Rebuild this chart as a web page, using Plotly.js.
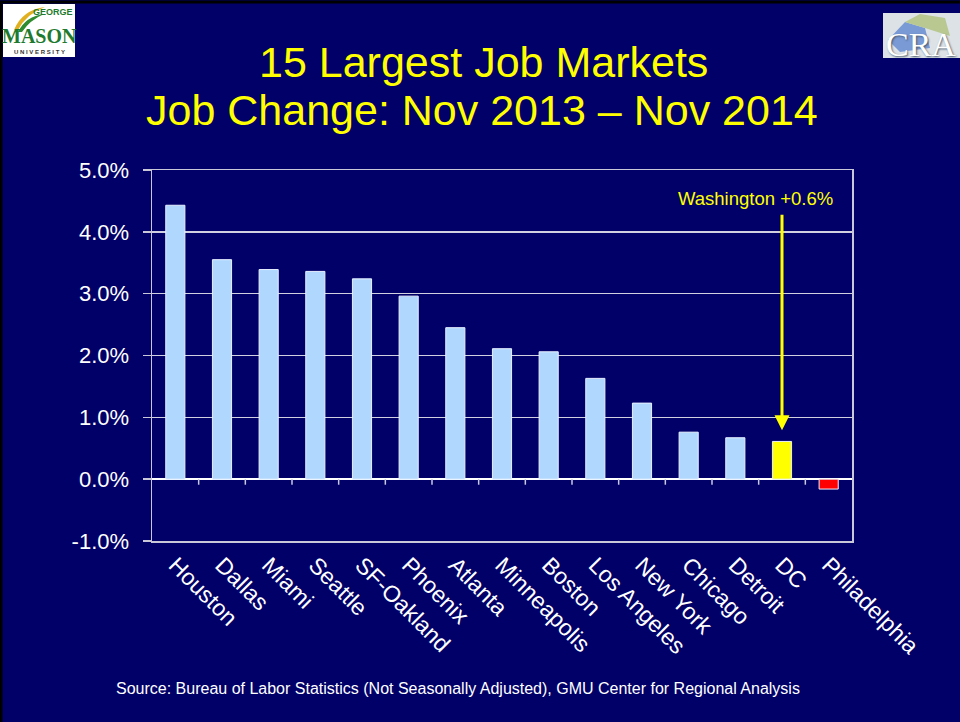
<!DOCTYPE html>
<html>
<head>
<meta charset="utf-8">
<script src="https://cdn.plot.ly/plotly-3.0.1.min.js"></script>
<style>
html,body{margin:0;padding:0;background:#000068;}
#chart{width:960px;height:722px;}
</style>
</head>
<body>
<div id="chart"></div>
<script>
// ---- Data ----
const categories = ['Houston','Dallas','Miami','Seattle','SF-Oakland','Phoenix','Atlanta','Minneapolis','Boston','Los Angeles','New York','Chicago','Detroit','DC','Philadelphia'];
const jobChange = [4.43, 3.55, 3.39, 3.36, 3.24, 2.96, 2.45, 2.11, 2.06, 1.63, 1.23, 0.76, 0.67, 0.61, -0.16];
const yTickValues = [-1, 0, 1, 2, 3, 4, 5];
const yTickLabels = ['-1.0%', '0.0%', '1.0%', '2.0%', '3.0%', '4.0%', '5.0%'];
const highlightCategory = 'DC';
const highlightLabel = 'Washington +0.6%';
const titleLines = ['15 Largest Job Markets', 'Job Change: Nov 2013 \u2013 Nov 2014'];
const sourceText = 'Source: Bureau of Labor Statistics (Not Seasonally Adjusted), GMU Center for Regional Analysis';

// ---- Styling ----
const BG = '#000068';
const FONT = 'Arial, "Liberation Sans", sans-serif';
const W = 960, H = 722;
const M = {l: 152, r: 108, t: 170, b: 181};
const plotW = W - M.l - M.r, plotH = H - M.t - M.b;
const px = x => (x - M.l) / plotW;          // pixel -> paper x
const py = y => (H - M.b - y) / plotH;      // pixel -> paper y

const barColors = categories.map((c, i) =>
  c === highlightCategory ? '#FFFF00' : (jobChange[i] < 0 ? '#FF0000' : '#B0D8FF'));

const trace = {
  type: 'bar',
  x: categories,
  y: jobChange,
  marker: {color: barColors, line: {color: '#E8F0FF', width: 1}},
  hoverinfo: 'x+y'
};

// small tick marks along the zero line, at category boundaries
const shapes = [];
for (let i = 0; i < categories.length - 1; i++) {
  shapes.push({type: 'line', xref: 'x', yref: 'y', x0: i + 0.5, x1: i + 0.5, y0: 0, y1: -0.09,
    line: {color: '#C8C8E0', width: 1.5}});
}
// page border
shapes.push({type: 'rect', xref: 'paper', yref: 'paper', x0: px(1), x1: px(W + 5), y0: py(H + 5), y1: py(2),
  line: {color: '#000000', width: 3}, fillcolor: 'rgba(0,0,0,0)', layer: 'below'});
// GMU logo box
shapes.push({type: 'rect', xref: 'paper', yref: 'paper', x0: px(3), x1: px(75), y0: py(57), y1: py(4),
  line: {width: 0}, fillcolor: '#FFFFFF'});
// swoosh
shapes.push({type: 'path', xref: 'paper', yref: 'paper',
  path: `M ${px(14)} ${py(30)} Q ${px(22)} ${py(10)} ${px(45)} ${py(7)} Q ${px(26)} ${py(14)} ${px(18)} ${py(30)} Z`,
  line: {width: 0}, fillcolor: '#E0B020'});
shapes.push({type: 'path', xref: 'paper', yref: 'paper',
  path: `M ${px(18)} ${py(32)} Q ${px(26)} ${py(16)} ${px(44)} ${py(14)} Q ${px(30)} ${py(20)} ${px(22)} ${py(32)} Z`,
  line: {width: 0}, fillcolor: '#2E8B2E'});
// CRA logo box
shapes.push({type: 'rect', xref: 'paper', yref: 'paper', x0: px(883), x1: px(960), y0: py(58), y1: py(13),
  line: {width: 0}, fillcolor: '#DCE2E6'});
shapes.push({type: 'path', xref: 'paper', yref: 'paper',
  path: `M ${px(888)} ${py(40)} L ${px(905)} ${py(22)} L ${px(925)} ${py(28)} L ${px(930)} ${py(48)} L ${px(900)} ${py(52)} Z`,
  line: {width: 0}, fillcolor: '#7A9AD6'});
shapes.push({type: 'path', xref: 'paper', yref: 'paper',
  path: `M ${px(905)} ${py(22)} L ${px(920)} ${py(14)} L ${px(945)} ${py(18)} L ${px(950)} ${py(36)} L ${px(925)} ${py(28)} Z`,
  line: {width: 0}, fillcolor: '#B8C890'});

const annotations = [
  // title lines
  {x: px(483), y: py(62), xref: 'paper', yref: 'paper', text: titleLines[0], showarrow: false,
   xanchor: 'center', yanchor: 'middle', font: {family: FONT, size: 43, color: '#FFFF00'}},
  {x: px(482), y: py(110), xref: 'paper', yref: 'paper', text: titleLines[1], showarrow: false,
   xanchor: 'center', yanchor: 'middle', font: {family: FONT, size: 43, color: '#FFFF00'}},
  // highlight arrow
  {x: highlightCategory, y: 0.79, xref: 'x', yref: 'y', text: '', showarrow: true,
   ax: 0, ay: -217, arrowcolor: '#FFFF00', arrowwidth: 3, arrowhead: 2, arrowsize: 1},
  {x: px(755), y: py(198), xref: 'paper', yref: 'paper', text: highlightLabel, showarrow: false,
   xanchor: 'center', yanchor: 'middle', font: {family: FONT, size: 18.5, color: '#FFFF00'}},
  // source
  {x: px(458), y: py(688), xref: 'paper', yref: 'paper', text: sourceText, showarrow: false,
   xanchor: 'center', yanchor: 'middle', font: {family: FONT, size: 16, color: '#FFFFFF'}},
  // GMU logo text
  {x: px(53), y: py(12), xref: 'paper', yref: 'paper', text: '<b>GEORGE</b>', showarrow: false,
   xanchor: 'center', yanchor: 'middle', font: {family: FONT, size: 9, color: '#1E7A2E'}},
  {x: px(39), y: py(36), xref: 'paper', yref: 'paper', text: '<b>MASON</b>', showarrow: false,
   xanchor: 'center', yanchor: 'middle', font: {family: '"Liberation Serif", serif', size: 20, color: '#1E7A2E'}},
  {x: px(39), y: py(52), xref: 'paper', yref: 'paper', text: '<b>U N I V E R S I T Y</b>', showarrow: false,
   xanchor: 'center', yanchor: 'middle', font: {family: FONT, size: 6, color: '#333333'}},
  // CRA logo text
  {x: px(921), y: py(44), xref: 'paper', yref: 'paper', text: 'CRA', showarrow: false,
   xanchor: 'center', yanchor: 'middle', font: {family: '"Liberation Serif", serif', size: 34, color: '#FFFFFF', shadow: '1px 1px 2px #445566'}}
];

const layout = {
  width: W, height: H,
  paper_bgcolor: BG, plot_bgcolor: BG,
  margin: M,
  showlegend: false,
  bargap: 0.59,
  xaxis: {
    type: 'category', showgrid: false, zeroline: false,
    showline: true, linecolor: '#C8C8D8', linewidth: 1.5, mirror: true,
    ticks: '', tickangle: 45,
    tickfont: {family: FONT, size: 23, color: '#FFFFFF'}
  },
  yaxis: {
    range: [-1, 5], tickmode: 'array', tickvals: yTickValues, ticktext: yTickLabels,
    showgrid: true, gridcolor: '#D0D0E0', gridwidth: 1.5,
    zeroline: true, zerolinecolor: '#FFFFFF', zerolinewidth: 2,
    showline: true, linecolor: '#C8C8D8', linewidth: 1.5, mirror: true,
    ticks: 'outside', ticklen: 8, tickcolor: '#C8C8D8', tickwidth: 1.5,
    ticklabelstandoff: 9,
    tickfont: {family: FONT, size: 22, color: '#FFFFFF'}
  },
  shapes: shapes,
  annotations: annotations
};

Plotly.newPlot('chart', [trace], layout, {displayModeBar: false, staticPlot: true});
</script>
</body>
</html>
